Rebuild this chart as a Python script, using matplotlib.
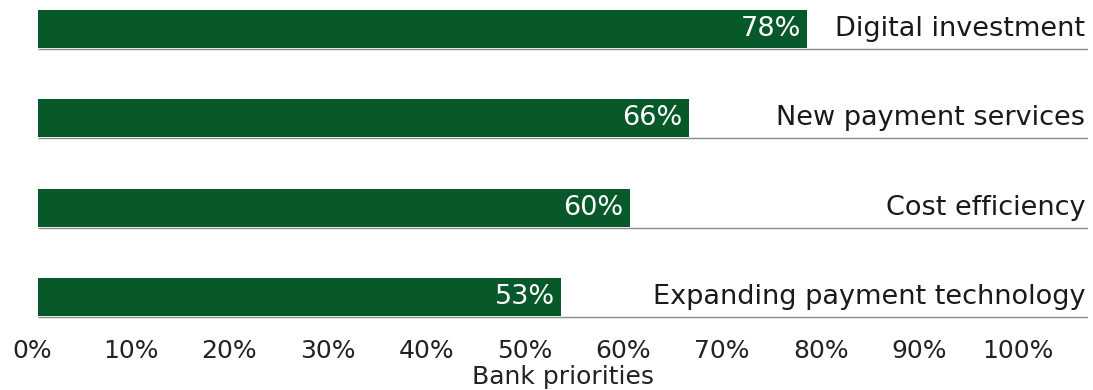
import matplotlib
matplotlib.use("Agg")
import matplotlib.pyplot as plt
from matplotlib.transforms import ScaledTranslation

categories = ["Digital investment", "New payment services", "Cost efficiency", "Expanding payment technology"]
values = [78, 66, 60, 53]
ticks = [0, 10, 20, 30, 40, 50, 60, 70, 80, 90, 100]
tick_labels = [f"{t}%" for t in ticks]
xlabel = "Bank priorities"

GREEN = "#07592a"
plt.rcParams['font.family'] = ['DejaVu Sans']
FS = 19.5
TFS = 18

fig = plt.figure(figsize=(10.93, 3.9), dpi=100)
ax = fig.add_axes([38/1093, 70/390, 1050/1093, 315/390])

n = len(categories)
ys = [n - 1 - i for i in range(n)]
h = 0.425
ax.barh(ys, values, height=h, color=GREEN, edgecolor="none", zorder=2)
xmax = 106.5
for y, v, c in zip(ys, values, categories):
    ax.text(v - 0.6, y, f"{v}%", color="white", ha="right", va="center", fontsize=FS, zorder=3)
    ax.text(xmax - 0.3, y, c, color="#1a1a1a", ha="right", va="center", fontsize=FS, zorder=3)
    ax.plot([0, xmax], [y - h/2 - 0.012]*2, color="#8a8a8a", lw=1.0, zorder=1, solid_capstyle="butt")

ax.set_xlim(0, xmax)
ax.set_ylim(-0.26, 3.27)
ax.set_xticks(ticks)
ax.set_xticklabels(tick_labels, fontsize=TFS, color="#222222")
ax.set_yticks([])
ax.tick_params(axis="x", length=0, pad=14)
shift = ScaledTranslation(-6/100, 0, fig.dpi_scale_trans)
for lbl in ax.get_xticklabels():
    lbl.set_transform(lbl.get_transform() + shift)
for s in ax.spines.values():
    s.set_visible(False)
ax.set_xlabel(xlabel, fontsize=TFS, color="#222222", labelpad=1)
fig.savefig("out.png", dpi=100)
